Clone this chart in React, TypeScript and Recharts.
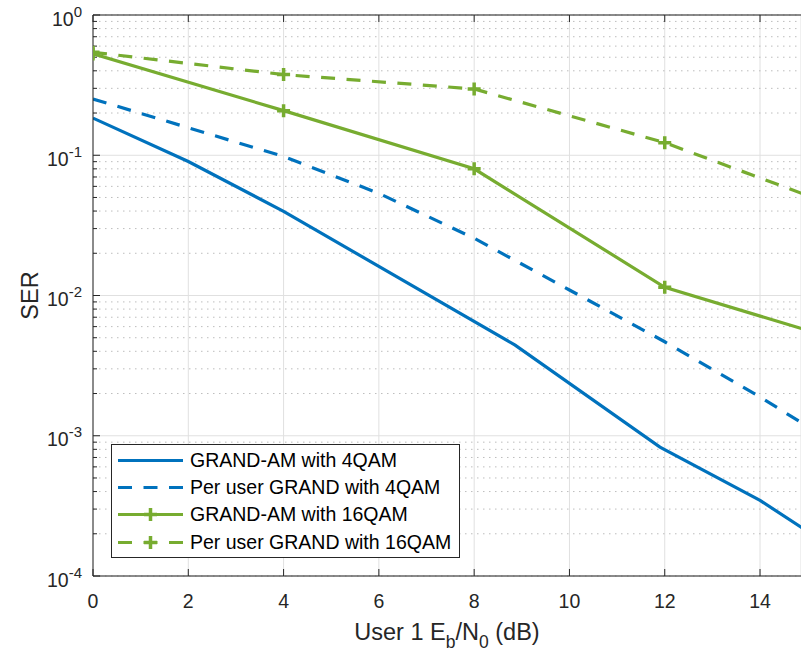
import React from 'react';
import { LineChart, Line, XAxis, YAxis, CartesianGrid, Legend, ReferenceLine } from 'recharts';

const FONT = "'Liberation Sans', Arial, Helvetica, sans-serif";
const TEXT = '#262626';
const BLUE = '#0072BD';
const GREEN = '#77AC30';

// Eb/N0 (dB) values of each curve
const ebn0Grand4 = [0, 2, 4, 8.86, 11.9, 14, 16];
const ebn0PerUser4 = [0, 4, 6, 8, 10, 12, 14, 16];
const ebn0Qam16 = [0, 4, 8, 12, 16];

// SER values
const serGrand4 = [0.184, 0.0903, 0.0398, 0.00443, 0.00083, 0.000346, 0.000125];
const serPerUser4 = [0.252, 0.098, 0.0535, 0.0256, 0.01095, 0.00468, 0.00189, 0.000716];
const serGrand16 = [0.528, 0.208, 0.08, 0.01145, 0.00445];
const serPerUser16 = [0.542, 0.376, 0.297, 0.123, 0.0386];

const seriesNames = [
  'GRAND-AM with 4QAM',
  'Per user GRAND with 4QAM',
  'GRAND-AM with 16QAM',
  'Per user GRAND with 16QAM',
];

const xTicks = [0, 2, 4, 6, 8, 10, 12, 14];
const yTicks = [1e-4, 1e-3, 1e-2, 1e-1, 1];
const yMinorTicks = [1e-4, 1e-3, 1e-2, 1e-1].flatMap((d) =>
  [2, 3, 4, 5, 6, 7, 8, 9].map((m) => m * d)
);

const toPoints = (xs: number[], ys: number[]) => xs.map((x, i) => ({ x, ser: ys[i] }));

const series = [
  { name: seriesNames[0], data: toPoints(ebn0Grand4, serGrand4), color: BLUE, dash: undefined, marker: false },
  { name: seriesNames[1], data: toPoints(ebn0PerUser4, serPerUser4), color: BLUE, dash: '14 11.5', marker: false },
  { name: seriesNames[2], data: toPoints(ebn0Qam16, serGrand16), color: GREEN, dash: undefined, marker: true },
  { name: seriesNames[3], data: toPoints(ebn0Qam16, serPerUser16), color: GREEN, dash: '14 11.5', marker: true },
];

// top box ticks: ~7px down from 10^0 on the log axis
const TOP_TICK_END = 0.891;

const plus = (cx: number, cy: number) => `M${cx - 6.5},${cy}H${cx + 6.5}M${cx},${cy - 6.5}V${cy + 6.5}`;

const XTick = (props: any) => {
  const { x, y, payload } = props;
  return (
    <text x={x} y={y} textAnchor="middle" fill={TEXT} fontSize={19.5} fontFamily={FONT}>
      {payload.value}
    </text>
  );
};

const YTick = (props: any) => {
  const { x, y, payload } = props;
  const exp = Math.round(Math.log10(payload.value));
  return (
    <text x={x} y={y + 10.5} textAnchor="end" fill={TEXT} fontSize={19.5} fontFamily={FONT}>
      <tspan>10</tspan>
      <tspan fontSize={15} dy={-9}>{exp}</tspan>
    </text>
  );
};

const NoTick = () => <g />;

const YLabel = (props: any) => {
  const vb = props.viewBox ?? { x: 0, y: 15, width: 93, height: 561 };
  const cx = vb.x + vb.width - 63;
  const cy = vb.y + vb.height / 2;
  return (
    <text x={cx} y={cy} transform={`rotate(-90 ${cx} ${cy})`} textAnchor="middle" dominantBaseline="central"
      fill={TEXT} fontSize={23.5} fontFamily={FONT}>
      SER
    </text>
  );
};

const XLabel = (props: any) => {
  const vb = props.viewBox ?? { x: 93, y: 576, width: 708, height: 78 };
  return (
    <text x={vb.x + vb.width / 2} y={vb.y + 64} textAnchor="middle" fill={TEXT} fontSize={23.5} fontFamily={FONT}>
      <tspan>User 1 E</tspan>
      <tspan fontSize={17.5} dy={8}>b</tspan>
      <tspan dy={-8}>/N</tspan>
      <tspan fontSize={17.5} dy={8}>0</tspan>
      <tspan dy={-8}> (dB)</tspan>
    </text>
  );
};

const LegendBox = () => (
  <div style={{ position: 'relative', width: 347, height: 112, border: '1px solid #262626', background: '#fff', fontFamily: FONT, fontSize: 19.5, color: '#000' }}>
    {series.map((s, i) => (
      <div key={s.name} style={{ position: 'absolute', left: 0, top: 2, height: 27, marginTop: i * 27.2, display: 'flex', alignItems: 'center', whiteSpace: 'nowrap' }}>
        <svg width={78} height={27} style={{ display: 'block' }}>
          <line x1={6} x2={71} y1={13.5} y2={13.5} stroke={s.color} strokeWidth={3} strokeDasharray={s.dash} />
          {s.marker && <path d={plus(38.5, 13.5)} stroke={s.color} strokeWidth={3.5} fill="none" />}
        </svg>
        <span>{s.name}</span>
      </div>
    ))}
  </div>
);

export default function App() {
  return (
    <div style={{ position: 'absolute', left: 0, top: 0, width: 801, height: 654, background: '#fff' }}>
      <LineChart width={801} height={654} margin={{ top: 15, right: 0, bottom: 0, left: 0 }}>
        <CartesianGrid stroke="#e0e0e0" />
        <CartesianGrid yAxisId="minor" vertical={false} stroke="#bdbdbd" strokeDasharray="1.5 4.5" />
        <XAxis dataKey="x" type="number" domain={[0, 14.86]} ticks={xTicks} interval={0} allowDataOverflow
          height={78} tickSize={-7} tickMargin={39} tick={<XTick />} stroke={TEXT} label={XLabel} />
        <YAxis scale="log" type="number" domain={[1e-4, 1]} ticks={yTicks} interval={0} allowDataOverflow
          width={93} tickSize={-7} tickMargin={18} tick={<YTick />} stroke={TEXT} label={YLabel} />
        <YAxis yAxisId="minor" scale="log" type="number" domain={[1e-4, 1]} ticks={yMinorTicks} interval={0}
          allowDataOverflow mirror width={1} tickSize={4} axisLine={false} tick={<NoTick />} stroke={TEXT} />
        <ReferenceLine y={1} stroke={TEXT} strokeWidth={1} />
        {xTicks.map((t) => (
          <ReferenceLine key={`top-${t}`} segment={[{ x: t, y: 1 }, { x: t, y: TOP_TICK_END }]} stroke={TEXT} />
        ))}
        {series.map((s) => (
          <Line key={s.name} data={s.data} dataKey="ser" name={s.name} type="linear" stroke={s.color}
            strokeWidth={3.2} strokeDasharray={s.dash} isAnimationActive={false} activeDot={false}
            dot={s.marker ? (p: any) => (
              <path key={`${s.name}-${p.index}`} d={plus(p.cx, p.cy)} stroke={s.color} strokeWidth={3.5} fill="none" />
            ) : false} />
        ))}
        <Legend layout="vertical" align="center" verticalAlign="middle" content={<LegendBox />}
          wrapperStyle={{ left: 111, top: 444, width: 349, height: 114 }} />
      </LineChart>
    </div>
  );
}
